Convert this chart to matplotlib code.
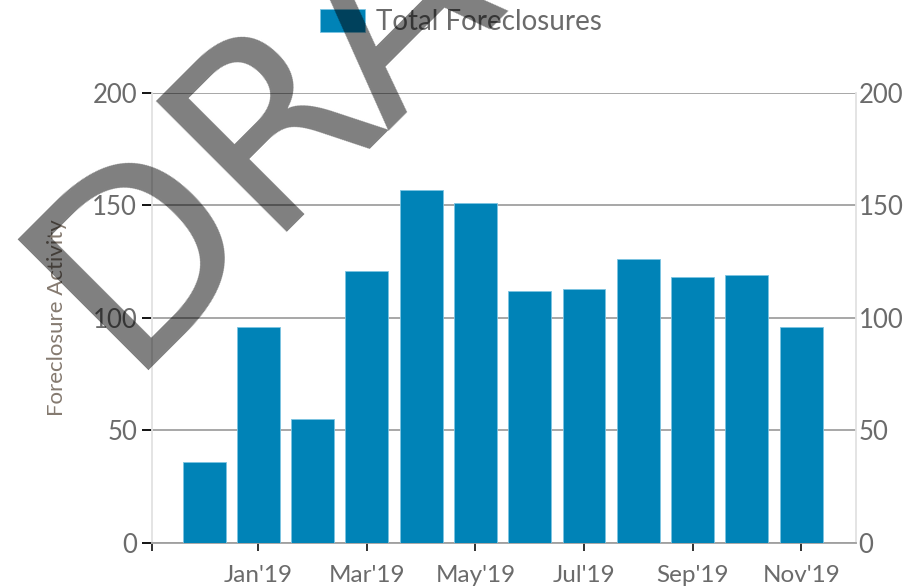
import matplotlib
matplotlib.use("Agg")
import matplotlib.pyplot as plt
import numpy as np

months = ["Dec'18", "Jan'19", "Feb'19", "Mar'19", "Apr'19", "May'19",
          "Jun'19", "Jul'19", "Aug'19", "Sep'19", "Oct'19", "Nov'19"]
foreclosures = [36, 96, 55, 121, 157, 151, 112, 113, 126, 118, 119, 96]
y_ticks = [0, 50, 100, 150, 200]

plt.rcParams['font.family'] = ['Lato', 'DejaVu Sans']
text_color = "#6b6b6b"
bar_color = "#0083b7"

fig = plt.figure(figsize=(9.08, 5.87), dpi=100)
ax = fig.add_axes([0.1674, 0.0750, 0.7753, 0.7666])

x = np.arange(len(months))
bars = ax.bar(x, foreclosures, width=0.79, color=bar_color,
              edgecolor="#7cc4e2", linewidth=0.6, zorder=3,
              label="Total Foreclosures")

ax.set_xlim(-0.96, 12.01)
ax.set_ylim(0, 200)
ax.set_yticks(y_ticks)
ax.set_xticks(x[1::2])
ax.set_xticklabels(months[1::2])
ax.set_xticks([-0.96], minor=True)

ax.grid(axis="y", color="#a0a0a0", linewidth=1.3, zorder=1)
ax.set_axisbelow(True)

for side in ["left", "right"]:
    ax.spines[side].set_color("#e2e2e2")
    ax.spines[side].set_linewidth(1.3)
ax.spines["top"].set_visible(False)
ax.spines["bottom"].set_color("#a0a0a0")
ax.spines["bottom"].set_linewidth(1.3)

ax.tick_params(axis="y", which="major", length=7.2, width=1.3, color="black",
               labelcolor=text_color, labelsize=18.5, pad=3.5)
ax.tick_params(axis="x", which="both", length=5.8, width=1.3, color="#222222",
               labelcolor=text_color, labelsize=17.5, pad=10)

ax2 = ax.twinx()
ax2.set_ylim(0, 200)
ax2.set_yticks(y_ticks)
ax2.tick_params(length=0, pad=2, labelcolor=text_color, labelsize=18.5)
for s in ax2.spines.values():
    s.set_visible(False)

ax.set_ylabel("Foreclosure Activity", fontsize=16, color="#857a70", labelpad=18)

fig.legend(handles=[bars], labels=["Total Foreclosures"], loc="center",
           bbox_to_anchor=(461 / 908, 1 - 22 / 587), frameon=False,
           fontsize=20, labelcolor=text_color, handlelength=1.6,
           handleheight=0.86, handletextpad=0.4, borderpad=0)

# watermark
fig.text(124 / 908, 1 - 370 / 587, "DRAFT", fontsize=183,
         family="DejaVu Sans", color="black", alpha=0.5,
         rotation=45, rotation_mode="anchor", ha="left", va="baseline",
         zorder=10)

fig.savefig("out.png", dpi=100)
